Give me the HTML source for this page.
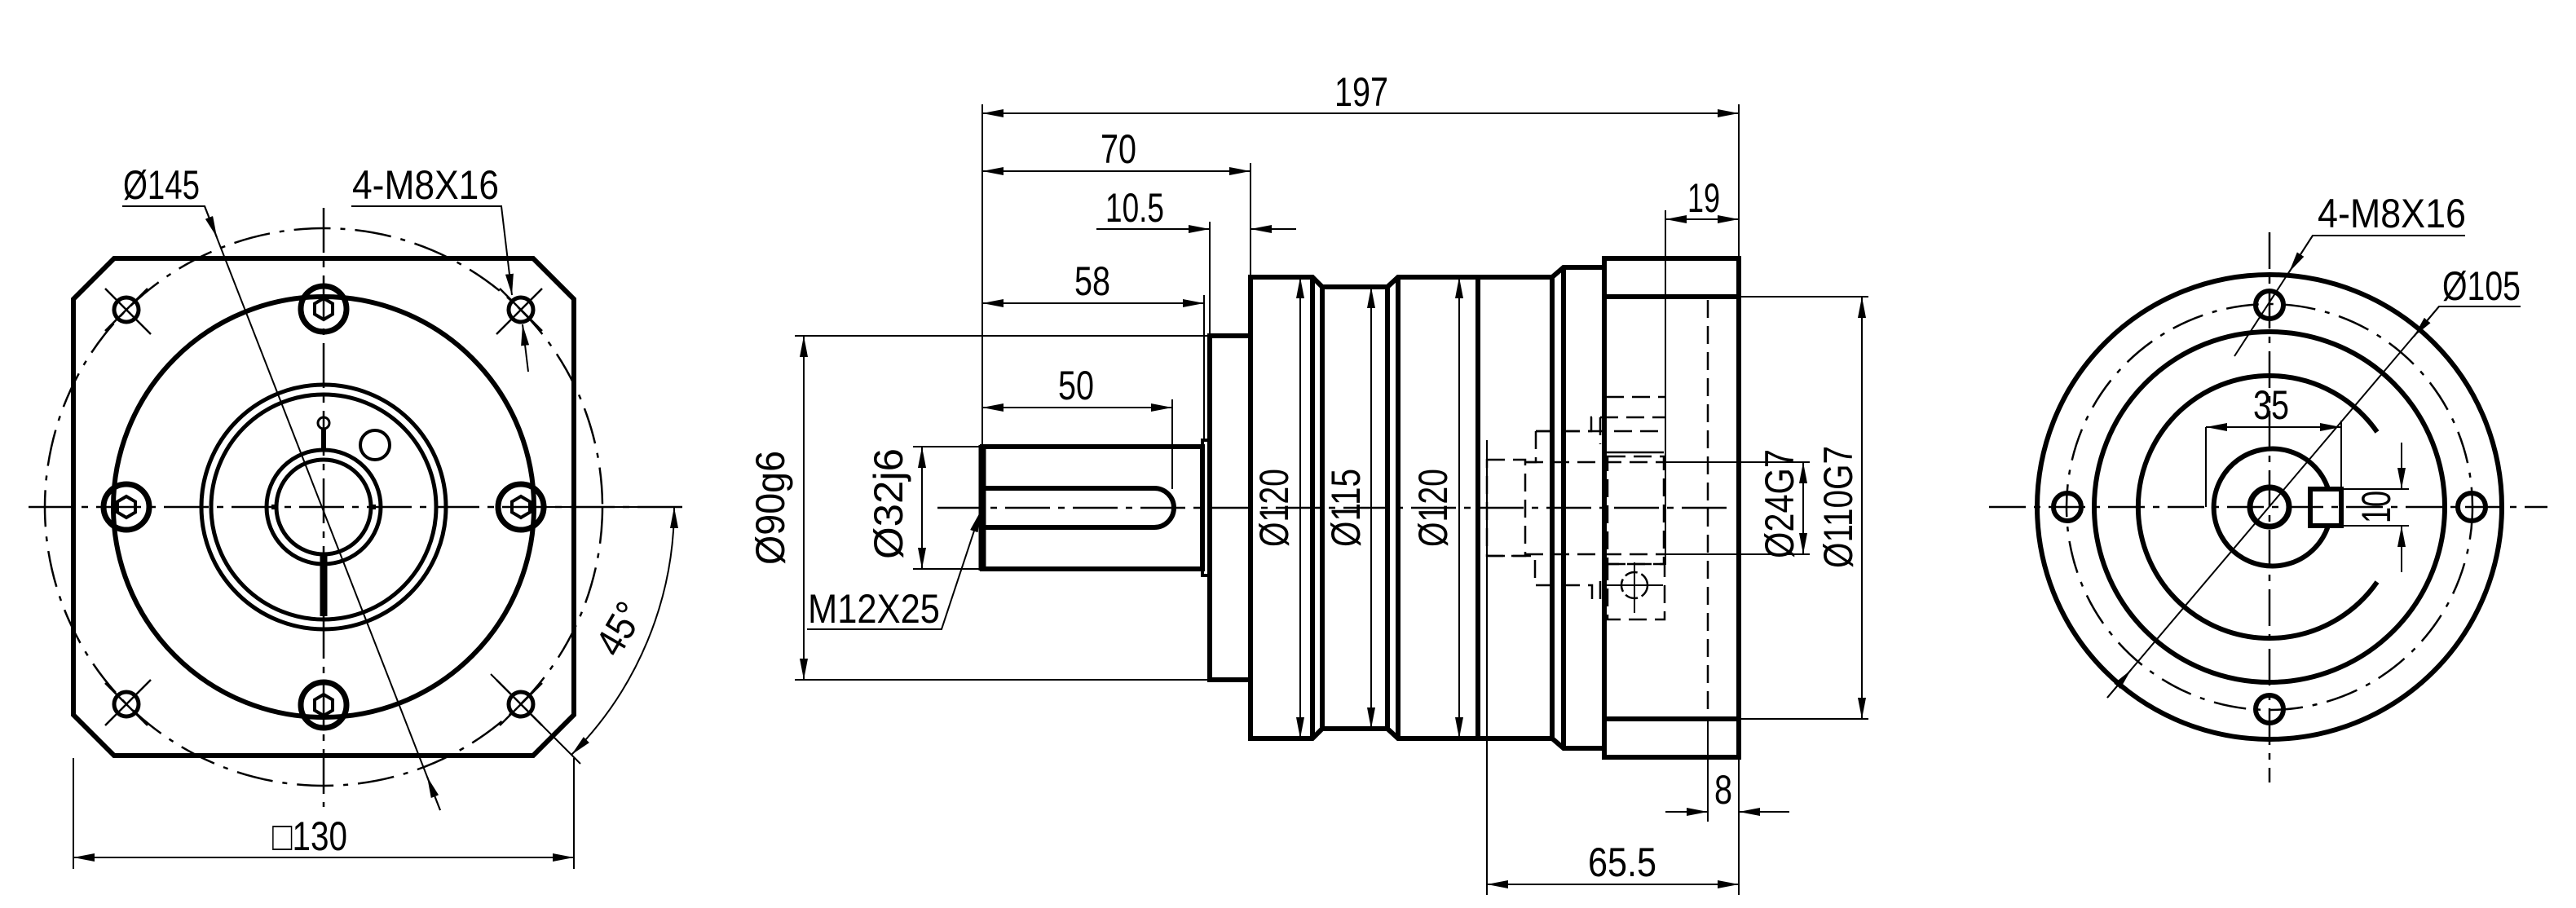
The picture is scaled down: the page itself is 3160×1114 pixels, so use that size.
<!DOCTYPE html>
<html><head><meta charset="utf-8">
<style>
html,body{margin:0;padding:0;background:#fff;}
svg{display:block;}
text{font-family:"Liberation Sans Narrow","Liberation Sans",sans-serif;font-size:50px;fill:#000;stroke:none;}
</style></head>
<body>
<svg width="3160" height="1114" viewBox="0 0 3160 1114" xmlns="http://www.w3.org/2000/svg">
<defs>
<marker id="ar" markerUnits="userSpaceOnUse" markerWidth="28" markerHeight="10" refX="26" refY="5" orient="auto-start-reverse">
<path d="M0,0 L26,5 L0,10 z" fill="#000"/>
</marker>
</defs>
<g fill="none" stroke="#000" stroke-linecap="butt">

<!-- ============ LEFT VIEW ============ -->
<path d="M140,317 L654,317 L704,367 L704,877 L654,927 L140,927 L90,877 L90,367 Z" stroke-width="6"/>
<circle cx="397" cy="622" r="342" stroke-width="2.5" stroke-dasharray="45 12 6 12"/>
<circle cx="397" cy="622" r="258" stroke-width="6"/>
<circle cx="397" cy="622" r="150" stroke-width="5"/>
<circle cx="397" cy="622" r="138" stroke-width="5"/>
<circle cx="397" cy="622" r="70" stroke-width="5"/>
<circle cx="397" cy="622" r="58" stroke-width="5"/>
<circle cx="460" cy="546" r="18" stroke-width="4"/>
<circle cx="397" cy="519" r="7" stroke-width="3"/>
<line x1="397" y1="526" x2="397" y2="553" stroke-width="6"/>
<line x1="397" y1="678" x2="397" y2="756" stroke-width="9"/>
<line x1="333" y1="622" x2="341" y2="622" stroke-width="6"/>
<line x1="453" y1="622" x2="461" y2="622" stroke-width="6"/>
<!-- socket heads -->
<g stroke-width="7">
<circle cx="397" cy="379" r="28"/><circle cx="397" cy="865" r="28"/>
<circle cx="155" cy="622" r="28"/><circle cx="639" cy="622" r="28"/>
</g>
<g stroke-width="4">
<path d="M397,366 L408,372.5 L408,385.5 L397,392 L386,385.5 L386,372.5 Z"/>
<path d="M397,852 L408,858.5 L408,871.5 L397,878 L386,871.5 L386,858.5 Z"/>
<path d="M155,609 L166,615.5 L166,628.5 L155,635 L144,628.5 L144,615.5 Z"/>
<path d="M639,609 L650,615.5 L650,628.5 L639,635 L628,628.5 L628,615.5 Z"/>
</g>
<!-- corner holes -->
<g stroke-width="5">
<circle cx="155" cy="380" r="15"/><circle cx="639" cy="380" r="15"/>
<circle cx="155" cy="864" r="15"/><circle cx="639" cy="864" r="15"/>
</g>
<g stroke-width="2.5">
<line x1="129" y1="354" x2="185" y2="410"/><line x1="129" y1="406" x2="181" y2="354"/>
<line x1="665" y1="354" x2="609" y2="410"/><line x1="665" y1="406" x2="613" y2="354"/>
<line x1="129" y1="890" x2="185" y2="834"/><line x1="129" y1="838" x2="181" y2="890"/>
<line x1="665" y1="890" x2="609" y2="834"/><line x1="665" y1="838" x2="613" y2="890"/>
</g>
<!-- centerlines -->
<line x1="35" y1="622" x2="840" y2="622" stroke-width="2.5" stroke-dasharray="55 10 8 10"/>
<line x1="397" y1="255" x2="397" y2="990" stroke-width="2.5" stroke-dasharray="55 10 8 10"/>
<!-- Ø145 leader -->
<g stroke-width="2">
<polyline points="150,253 251,253 540,994"/>
<line x1="251" y1="253" x2="266" y2="291" marker-end="url(#ar)"/>
<line x1="540" y1="994" x2="524" y2="953" marker-end="url(#ar)"/>
<!-- 4-M8X16 -->
<polyline points="431,253 615,253 628,362" marker-end="url(#ar)"/>
<line x1="648" y1="456" x2="641" y2="398" marker-end="url(#ar)"/>
<!-- 45° -->
<line x1="620" y1="622" x2="832" y2="622"/>
<line x1="602" y1="827" x2="712" y2="937"/>
<path d="M827,622 A430,430 0 0 1 701,926" marker-start="url(#ar)" marker-end="url(#ar)"/>
<!-- □130 -->
<line x1="90" y1="930" x2="90" y2="1066"/>
<line x1="704" y1="930" x2="704" y2="1066"/>
<line x1="90" y1="1052" x2="704" y2="1052" marker-start="url(#ar)" marker-end="url(#ar)"/>
</g>
<text x="198" y="244" text-anchor="middle" textLength="94" lengthAdjust="spacingAndGlyphs">Ø145</text>
<text x="522" y="244" text-anchor="middle" textLength="180" lengthAdjust="spacingAndGlyphs">4-M8X16</text>
<text x="380" y="1043" text-anchor="middle" textLength="92" lengthAdjust="spacingAndGlyphs">□130</text>
<text x="0" y="0" text-anchor="middle" textLength="66" lengthAdjust="spacingAndGlyphs" transform="translate(775,780) rotate(-60)">45°</text>

<!-- ============ SIDE VIEW ============ -->
<g stroke-width="6">
<rect x="1205" y="548" width="270" height="150"/>
<line x1="1205" y1="546" x2="1205" y2="700" stroke-width="9"/>
<path d="M1205,599 L1416,599 A24,24 0 0 1 1416,647 L1205,647"/>
<rect x="1475" y="540" width="9" height="166" stroke-width="4"/>
<rect x="1484" y="412" width="50" height="422"/>
<path d="M1534,340 L1610,340 L1622,352 L1702,352 L1715,340 L1904,340 L1918,328 L1968,328 L1968,317 L2133,317 L2133,929 L1968,929 L1968,918 L1918,918 L1904,906 L1715,906 L1702,894 L1622,894 L1610,906 L1534,906 Z"/>
<line x1="1610" y1="340" x2="1610" y2="906"/>
<line x1="1622" y1="352" x2="1622" y2="894"/>
<line x1="1702" y1="352" x2="1702" y2="894"/>
<line x1="1715" y1="340" x2="1715" y2="906"/>
<line x1="1813" y1="340" x2="1813" y2="906"/>
<line x1="1904" y1="340" x2="1904" y2="906"/>
<line x1="1918" y1="328" x2="1918" y2="918"/>
<line x1="1968" y1="317" x2="1968" y2="929"/>
<line x1="1968" y1="364" x2="2133" y2="364"/>
<line x1="1968" y1="882" x2="2133" y2="882"/>
</g>
<!-- hidden lines -->
<g stroke-width="2.5" stroke-dasharray="22 10">
<line x1="1970" y1="487" x2="2043" y2="487"/>
<line x1="1963" y1="512" x2="2043" y2="512"/>
<line x1="1884" y1="529" x2="2043" y2="529"/>
<polyline points="1884,529 1952,529 1952,512 1963,512 1963,545"/>
<polyline points="1884,529 1884,567 1871,567"/>
<rect x="1824" y="564" width="47" height="118"/>
<polyline points="1824,682 1871,682 1883,682 1883,718 1953,718 1953,735 1963,735 1963,703"/>
<line x1="1871" y1="567" x2="2043" y2="567"/>
<line x1="1871" y1="680" x2="2043" y2="680"/>
<rect x="1972" y="560" width="69" height="132"/>
<rect x="1972" y="692" width="70" height="68"/>
<line x1="2095" y1="368" x2="2095" y2="880"/>
<circle cx="2005" cy="718" r="16" stroke-dasharray="16 5"/>
</g>
<line x1="1970" y1="555" x2="2041" y2="555" stroke-width="2.5"/>
<line x1="2005" y1="690" x2="2005" y2="752" stroke-width="2"/>
<line x1="1970" y1="718" x2="2040" y2="718" stroke-width="2"/>
<!-- centerline -->
<line x1="1150" y1="623" x2="2120" y2="623" stroke-width="2.5" stroke-dasharray="55 10 8 10"/>

<g stroke-width="2">
<!-- ext lines -->
<line x1="1205" y1="128" x2="1205" y2="546"/>
<line x1="2133" y1="128" x2="2133" y2="317"/>
<line x1="1534" y1="200" x2="1534" y2="340"/>
<line x1="1484" y1="272" x2="1484" y2="412"/>
<line x1="1477" y1="362" x2="1477" y2="540"/>
<line x1="1438" y1="490" x2="1438" y2="600"/>
<line x1="975" y1="412" x2="1484" y2="412"/>
<line x1="975" y1="834" x2="1484" y2="834"/>
<line x1="1120" y1="548" x2="1205" y2="548"/>
<line x1="1120" y1="698" x2="1205" y2="698"/>
<line x1="2043" y1="258" x2="2043" y2="693"/>
<line x1="2133" y1="364" x2="2292" y2="364"/>
<line x1="2133" y1="882" x2="2292" y2="882"/>
<line x1="2043" y1="567" x2="2220" y2="567"/>
<line x1="2043" y1="680" x2="2220" y2="680"/>
<line x1="2133" y1="929" x2="2133" y2="1098"/>
<line x1="2095" y1="880" x2="2095" y2="1008"/>
<line x1="1824" y1="540" x2="1824" y2="1098"/>
<!-- dims -->
<line x1="1205" y1="139" x2="2133" y2="139" marker-start="url(#ar)" marker-end="url(#ar)"/>
<line x1="1205" y1="210" x2="1534" y2="210" marker-start="url(#ar)" marker-end="url(#ar)"/>
<line x1="1345" y1="281" x2="1484" y2="281" marker-end="url(#ar)"/>
<line x1="1590" y1="281" x2="1534" y2="281" marker-end="url(#ar)"/>
<line x1="1205" y1="372" x2="1477" y2="372" marker-start="url(#ar)" marker-end="url(#ar)"/>
<line x1="1205" y1="500" x2="1438" y2="500" marker-start="url(#ar)" marker-end="url(#ar)"/>
<line x1="986" y1="412" x2="986" y2="834" marker-start="url(#ar)" marker-end="url(#ar)"/>
<line x1="1131" y1="548" x2="1131" y2="698" marker-start="url(#ar)" marker-end="url(#ar)"/>
<line x1="1595" y1="340" x2="1595" y2="906" marker-start="url(#ar)" marker-end="url(#ar)"/>
<line x1="1682" y1="352" x2="1682" y2="894" marker-start="url(#ar)" marker-end="url(#ar)"/>
<line x1="1790" y1="340" x2="1790" y2="906" marker-start="url(#ar)" marker-end="url(#ar)"/>
<line x1="2284" y1="364" x2="2284" y2="882" marker-start="url(#ar)" marker-end="url(#ar)"/>
<line x1="2212" y1="567" x2="2212" y2="680" marker-start="url(#ar)" marker-end="url(#ar)"/>
<line x1="2043" y1="269" x2="2133" y2="269" marker-start="url(#ar)" marker-end="url(#ar)"/>
<line x1="2043" y1="996" x2="2095" y2="996" marker-end="url(#ar)"/>
<line x1="2195" y1="996" x2="2133" y2="996" marker-end="url(#ar)"/>
<line x1="1824" y1="1085" x2="2133" y2="1085" marker-start="url(#ar)" marker-end="url(#ar)"/>
<!-- M12X25 leader -->
<polyline points="990,772 1155,772 1203,627" marker-end="url(#ar)"/>
</g>
<text x="1670" y="130" text-anchor="middle" textLength="66" lengthAdjust="spacingAndGlyphs">197</text>
<text x="1372" y="200" text-anchor="middle" textLength="44" lengthAdjust="spacingAndGlyphs">70</text>
<text x="1392" y="272" text-anchor="middle" textLength="72" lengthAdjust="spacingAndGlyphs">10.5</text>
<text x="1340" y="362" text-anchor="middle" textLength="44" lengthAdjust="spacingAndGlyphs">58</text>
<text x="1320" y="490" text-anchor="middle" textLength="44" lengthAdjust="spacingAndGlyphs">50</text>
<text x="2090" y="260" text-anchor="middle" textLength="40" lengthAdjust="spacingAndGlyphs">19</text>
<text x="2114" y="986" text-anchor="middle" textLength="22" lengthAdjust="spacingAndGlyphs">8</text>
<text x="1990" y="1075" text-anchor="middle" textLength="84" lengthAdjust="spacingAndGlyphs">65.5</text>
<text x="1072" y="764" text-anchor="middle" textLength="162" lengthAdjust="spacingAndGlyphs">M12X25</text>
<g>
<text transform="translate(962,623) rotate(-90)" text-anchor="middle" textLength="140" lengthAdjust="spacingAndGlyphs">Ø90g6</text>
<text transform="translate(1107,618) rotate(-90)" text-anchor="middle" textLength="136" lengthAdjust="spacingAndGlyphs">Ø32j6</text>
<text transform="translate(1580,623) rotate(-90)" text-anchor="middle" textLength="96" lengthAdjust="spacingAndGlyphs">Ø120</text>
<text transform="translate(1668,623) rotate(-90)" text-anchor="middle" textLength="96" lengthAdjust="spacingAndGlyphs">Ø115</text>
<text transform="translate(1775,623) rotate(-90)" text-anchor="middle" textLength="96" lengthAdjust="spacingAndGlyphs">Ø120</text>
<text transform="translate(2200,618) rotate(-90)" text-anchor="middle" textLength="134" lengthAdjust="spacingAndGlyphs">Ø24G7</text>
<text transform="translate(2272,622) rotate(-90)" text-anchor="middle" textLength="150" lengthAdjust="spacingAndGlyphs">Ø110G7</text>
</g>

<!-- ============ RIGHT VIEW ============ -->
<circle cx="2784" cy="622" r="285" stroke-width="6"/>
<circle cx="2784" cy="622" r="249" stroke-width="2.5" stroke-dasharray="40 12 6 12"/>
<circle cx="2784" cy="622" r="215" stroke-width="6"/>
<path d="M2916,530 A161,161 0 1 0 2916,714" stroke-width="6"/>
<path d="M2856,600 A72,72 0 1 0 2856,645" stroke-width="6"/>
<circle cx="2784" cy="622" r="24" stroke-width="7"/>
<rect x="2834" y="600" width="38" height="45" stroke-width="6"/>
<g stroke-width="6">
<circle cx="2784" cy="374" r="17"/><circle cx="2784" cy="870" r="17"/>
<circle cx="2536" cy="622" r="17"/><circle cx="3032" cy="622" r="17"/>
</g>
<line x1="2440" y1="622" x2="3125" y2="622" stroke-width="2.5" stroke-dasharray="45 10 8 10"/>
<line x1="2784" y1="285" x2="2784" y2="960" stroke-width="2.5" stroke-dasharray="45 10 8 10"/>
<g stroke-width="2">
<line x1="2706" y1="524" x2="2706" y2="622"/>
<line x1="2872" y1="516" x2="2872" y2="600"/>
<line x1="2706" y1="524" x2="2872" y2="524" marker-start="url(#ar)" marker-end="url(#ar)"/>
<line x1="2872" y1="600" x2="2955" y2="600"/>
<line x1="2872" y1="645" x2="2955" y2="645"/>
<line x1="2946" y1="543" x2="2946" y2="600" marker-end="url(#ar)"/>
<line x1="2946" y1="702" x2="2946" y2="645" marker-end="url(#ar)"/>
<polyline points="3092,376 2992,376 2585,856"/>
<line x1="2992" y1="376" x2="2961" y2="413" marker-end="url(#ar)"/>
<line x1="2585" y1="856" x2="2614" y2="822" marker-end="url(#ar)"/>
<polyline points="3024,289 2837,289 2741,437"/>
<line x1="2837" y1="289" x2="2808" y2="334" marker-end="url(#ar)"/>
</g>
<text x="2786" y="514" text-anchor="middle" textLength="44" lengthAdjust="spacingAndGlyphs">35</text>
<text transform="translate(2932,622) rotate(-90)" text-anchor="middle" textLength="40" lengthAdjust="spacingAndGlyphs">10</text>
<text x="2934" y="279" text-anchor="middle" textLength="182" lengthAdjust="spacingAndGlyphs">4-M8X16</text>
<text x="3044" y="368" text-anchor="middle" textLength="96" lengthAdjust="spacingAndGlyphs">Ø105</text>
</g>
</svg>
</body></html>
